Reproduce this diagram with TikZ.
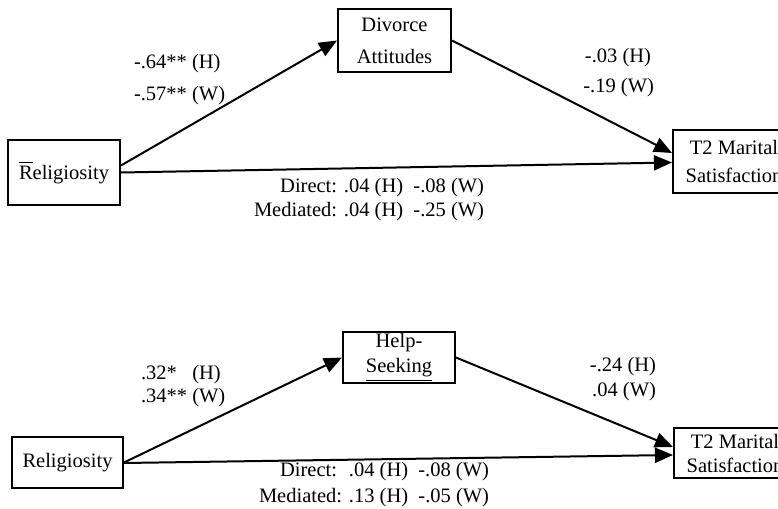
\documentclass[tikz,border=0pt]{standalone}
\usepackage{fontspec}
\setmainfont{Liberation Serif}
\usetikzlibrary{arrows.meta}

\begin{document}
\begin{tikzpicture}[x=0.5pt, y=-0.5pt, line width=1pt,
    font=\fontsize{10.25}{12.3}\selectfont,
    var/.style={draw, align=center, inner sep=0pt},
    path/.style={-{Triangle[length=9pt,width=7.5pt]}},
    coef/.style={inner sep=0pt}]
    \clip (0,0) rectangle (778,509);

    % Top model (divorce attitudes)
    \node[var, minimum width=56pt, minimum height=32.5pt] (rel1) at (64,172.5) {$\overline{\mbox{R}}$eligiosity};
    \node[var, minimum width=56.5pt, minimum height=31.5pt] (div) at (394.5,40.5) {Divorce\\[3.7pt]Attitudes};
    \node[var, minimum width=61pt, minimum height=31.5pt] (sat1) at (734,161.5) {T2 Marital\\[1.7pt]Satisfaction};
    \draw[path] ([yshift=3.5pt]rel1.east) -- (div.west);
    \draw[path] (div.east) -- ([yshift=4.25pt]sat1.west);
    \draw[path] (rel1.east) -- ([yshift=-0.5pt]sat1.west);
    \node[coef, anchor=west] (a1h) at (133,64) {-.64** (H)};
    \node[coef, anchor=west] (a1w) at (133,96) {-.57** (W)};
    \node[coef, anchor=east] (b1h) at (652,58) {-.03 (H)};
    \node[coef, anchor=east] (b1w) at (655,88) {-.19 (W)};
    \node[coef, anchor=east] (c1d) at (485,188) {Direct: .04 (H) \ -.08 (W)};
    \node[coef, anchor=east] (c1m) at (485,212) {Mediated: .04 (H) \ -.25 (W)};

    % Bottom model (help-seeking)
    \node[var, minimum width=55.5pt, minimum height=25.5pt] (rel2) at (67.5,462.5) {Religiosity};
    \node[var, minimum width=56pt, minimum height=25.5pt] (help) at (399,357.5) {Help-\\[0.2pt]\underline{Seeking}};
    \node[var, minimum width=61pt, minimum height=25pt] (sat2) at (735,453) {T2 Marital\\[-0.3pt]Satisfaction};
    \draw[path] (rel2.east) -- (help.west);
    \draw[path] (help.east) -- ([yshift=3pt]sat2.west);
    \draw[path] ([yshift=-0.25pt]rel2.east) -- ([yshift=-1pt]sat2.west);
    \node[coef, anchor=west] (a2h) at (140,375) {.32*\phantom{*} (H)};
    \node[coef, anchor=west] (a2w) at (140,398) {.34** (W)};
    \node[coef, anchor=east] (b2h) at (657,367) {-.24 (H)};
    \node[coef, anchor=east] (b2w) at (657,392) {.04 (W)};
    \node[coef, anchor=east] (c2d) at (490,472) {Direct: \ .04 (H) \ -.08 (W)};
    \node[coef, anchor=east] (c2m) at (490,498) {Mediated: .13 (H) \ -.05 (W)};
\end{tikzpicture}
\end{document}
